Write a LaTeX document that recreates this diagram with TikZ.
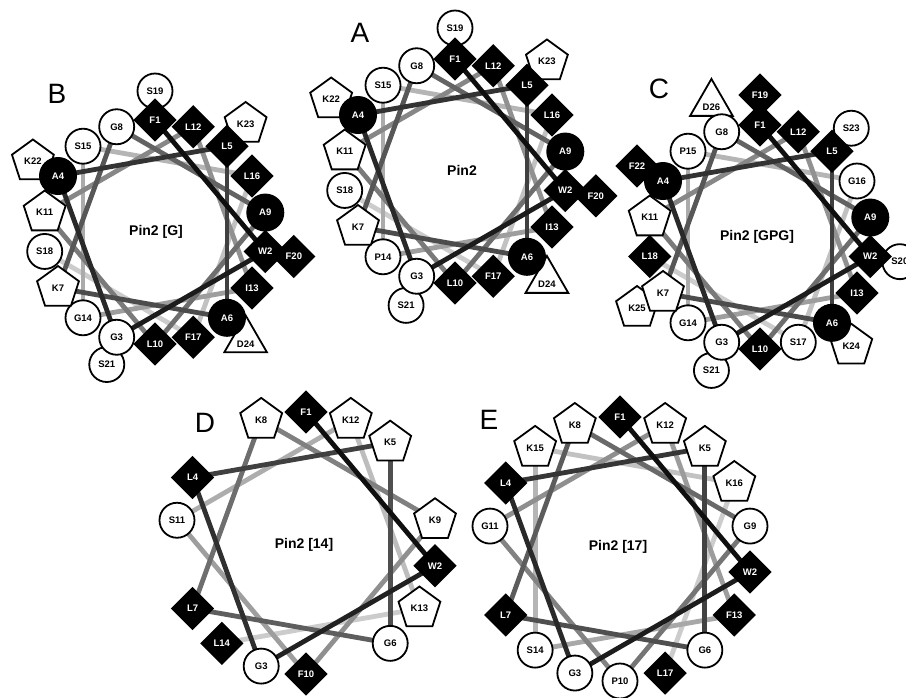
\documentclass[tikz,border=0pt]{standalone}
\usepackage{fontspec}
\setmainfont{Liberation Sans}
\usetikzlibrary{shapes.geometric,backgrounds}

\tikzset{
  res/.style={inner sep=0pt, font=\fontsize{9.5}{10}\selectfont\bfseries, line width=1.8pt},
  hphil/.style={res, circle, draw=black, fill=white, minimum size=35pt},
  ala/.style={res, circle, fill=black, text=white, minimum size=38pt},
  hphob/.style={res, diamond, fill=black, text=white, minimum size=44pt},
  poschg/.style={res, regular polygon, regular polygon sides=5, draw=black, fill=white, minimum size=44pt},
  negchg/.style={res, regular polygon, regular polygon sides=3, draw=black, fill=white, minimum size=48pt, text height=14pt, text depth=0pt},
  helixline/.style={line width=4.8pt},
  wheeltitle/.style={font=\fontsize{14}{16}\selectfont\bfseries},
  panellabel/.style={font=\fontsize{28}{30}\selectfont, inner sep=0pt},
}

% #1 prefix, #2 cx, #3 cy, #4 r1, #5 r2, #6 residues on first ring, #7 list n/letter/style (descending)
\newcommand\drawwheel[7]{%
  \foreach \rn/\rl/\rs in {#7} {
    \pgfmathsetmacro\ang{90-100*(\rn-1)}
    \pgfmathsetmacro\rr{(\rn>#6) ? #5 : #4}
    \pgfmathsetmacro\px{#2+\rr*cos(\ang)}
    \pgfmathsetmacro\py{#3-\rr*sin(\ang)}
    \edef\mkres{\noexpand\node[\rs] (#1\rn) at (\px,\py) {\rl\rn};}
    \mkres
  }
  \foreach \sj in {2,...,#6} {
    \pgfmathtruncatemacro\sa{#6+1-\sj}
    \pgfmathtruncatemacro\sb{\sa+1}
    \pgfmathtruncatemacro\pc{94-74*(\sa-1)/(#6-2)}
    \begin{pgfonlayer}{background}
      \draw[helixline, draw=black!\pc!white] (#1\sa.center) -- (#1\sb.center);
    \end{pgfonlayer}
  }
}

\begin{document}
\begin{tikzpicture}[x=1pt,y=-1pt]
\useasboundingbox (0,0) rectangle (906,697);
\begin{pgfonlayer}{background}
  \fill[white] (0,0) rectangle (906,697);
\end{pgfonlayer}

% panel letters
\node[panellabel] (labA) at (360,33) {A};
\node[panellabel] (labB) at (57,94) {B};
\node[panellabel] (labC) at (659,89) {C};
\node[panellabel] (labD) at (205,423) {D};
\node[panellabel] (labE) at (489,420) {E};

% wheel A
\drawwheel{a}{455}{171}{112}{143}{18}{24/D/negchg,23/K/poschg,22/K/poschg,21/S/hphil,20/F/hphob,19/S/hphil,18/S/hphil,17/F/hphob,16/L/hphob,15/S/hphil,14/P/hphil,13/I/hphob,12/L/hphob,11/K/poschg,10/L/hphob,9/A/ala,8/G/hphil,7/K/poschg,6/A/ala,5/L/hphob,4/A/ala,3/G/hphil,2/W/hphob,1/F/hphob}
\node[wheeltitle] (titA) at (462,170) {Pin2};

% wheel B
\drawwheel{b}{155}{232}{112}{141}{18}{24/D/negchg,23/K/poschg,22/K/poschg,21/S/hphil,20/F/hphob,19/S/hphil,18/S/hphil,17/F/hphob,16/L/hphob,15/S/hphil,14/G/hphil,13/I/hphob,12/L/hphob,11/K/poschg,10/L/hphob,9/A/ala,8/G/hphil,7/K/poschg,6/A/ala,5/L/hphob,4/A/ala,3/G/hphil,2/W/hphob,1/F/hphob}
\node[wheeltitle] (titB) at (156,232) {Pin2 [G]};

% wheel C
\drawwheel{c}{760}{237}{112}{142}{18}{26/D/negchg,25/K/poschg,24/K/poschg,23/S/hphil,22/F/hphob,21/S/hphil,20/S/hphil,19/F/hphob,18/L/hphob,17/S/hphil,16/G/hphil,15/P/hphil,14/G/hphil,13/I/hphob,12/L/hphob,11/K/poschg,10/L/hphob,9/A/ala,8/G/hphil,7/K/poschg,6/A/ala,5/L/hphob,4/A/ala,3/G/hphil,2/W/hphob,1/F/hphob}
\node[wheeltitle] (titC) at (757,237) {Pin2 [GPG]};

% wheel D
\drawwheel{d}{306}{543}{131}{131}{14}{14/L/hphob,13/K/poschg,12/K/poschg,11/S/hphil,10/F/hphob,9/K/poschg,8/K/poschg,7/L/hphob,6/G/hphil,5/K/poschg,4/L/hphob,3/G/hphil,2/W/hphob,1/F/hphob}
\node[wheeltitle] (titD) at (304,545) {Pin2 [14]};

% wheel E
\drawwheel{e}{620}{549}{132}{132}{17}{17/L/hphob,16/K/poschg,15/K/poschg,14/S/hphil,13/F/hphob,12/K/poschg,11/G/hphil,10/P/hphil,9/G/hphil,8/K/poschg,7/L/hphob,6/G/hphil,5/K/poschg,4/L/hphob,3/G/hphil,2/W/hphob,1/F/hphob}
\node[wheeltitle] (titE) at (618,547) {Pin2 [17]};
\end{tikzpicture}
\end{document}
